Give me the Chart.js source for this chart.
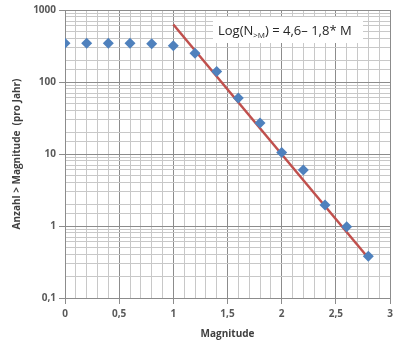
<!DOCTYPE html>
<html>
<head>
<meta charset="utf-8">
<script src="https://cdn.jsdelivr.net/npm/chart.js@4/dist/chart.umd.min.js"></script>
<style>
  html, body { margin: 0; padding: 0; background: #fff; }
  #wrap { position: relative; width: 400px; height: 347px; }
</style>
</head>
<body>
<div id="wrap"><canvas id="gr"></canvas></div>
<script>
// ── data ──
var magnitudes = [0, 0.2, 0.4, 0.6, 0.8, 1.0, 1.2, 1.4, 1.6, 1.8, 2.0, 2.2, 2.4, 2.6, 2.8];
var counts     = [345, 345, 345, 345, 340, 320, 250, 140, 60, 27, 10.5, 6, 1.95, 0.98, 0.38];

// fitted line Log(N>M) = 4,6 - 1,8*M, end points
var fitX = [1.0, 2.8];
var fitY = [630, 0.36];

var xTickLabels = ['0', '0,5', '1', '1,5', '2', '2,5', '3'];
var yTickLabels = ['0,1', '1', '10', '100', '1000'];

var FONT = '"Open Sans", "Liberation Sans", sans-serif';

function isDecade(v) {
  var l = Math.log10(v);
  return Math.abs(l - Math.round(l)) < 1e-9;
}
function isHalf(v) {
  return Math.abs(v * 2 - Math.round(v * 2)) < 1e-6;
}

var pts = [];
for (var i = 0; i < magnitudes.length; i++) pts.push({ x: magnitudes[i], y: counts[i] });
var fit = [];
for (var i = 0; i < fitX.length; i++) fit.push({ x: fitX[i], y: fitY[i] });

// formula box in the upper right
var formulaBox = {
  id: 'formulaBox',
  afterDraw: function(chart) {
    var c = chart.ctx;
    c.save();
    c.fillStyle = '#fff';
    c.fillRect(213, 17, 150, 26);
    c.fillStyle = '#262626';
    c.textBaseline = 'alphabetic';
    var x = 218, y = 35;
    c.font = '13px ' + FONT;
    c.fillText('Log(N', x, y); x += c.measureText('Log(N').width;
    c.font = '8px ' + FONT;
    c.fillText('>M', x, y + 3); x += c.measureText('>M').width;
    c.font = '13px ' + FONT;
    c.fillText(') = 4,6\u2013 1,8* M', x, y);
    c.restore();
  }
};

new Chart(document.getElementById('gr'), {
  type: 'scatter',
  data: {
    datasets: [
      {
        label: 'Anzahl',
        data: pts,
        pointStyle: 'rectRot',
        pointRadius: 5.5,
        pointHoverRadius: 5.5,
        backgroundColor: '#4F81BD',
        borderColor: '#4F81BD',
        borderWidth: 0,
        order: 1
      },
      {
        label: 'Fit',
        data: fit,
        showLine: true,
        borderColor: '#C0504D',
        borderWidth: 2.5,
        pointRadius: 0,
        order: 2
      }
    ]
  },
  options: {
    responsive: true,
    maintainAspectRatio: false,
    animation: false,
    layout: { padding: { left: 7, right: 10, top: 10, bottom: 7 } },
    plugins: {
      legend: { display: false },
      tooltip: { enabled: false }
    },
    scales: {
      x: {
        type: 'linear',
        min: 0,
        max: 3,
        afterFit: function(s) { s.height = 42; },
        ticks: {
          stepSize: 0.1,
          autoSkip: false,
          maxRotation: 0,
          color: '#595959',
          font: { family: FONT, size: 10, weight: 'bold' },
          padding: 4,
          callback: function(v) {
            if (!isHalf(v)) return '';
            return xTickLabels[Math.round(v * 2)];
          }
        },
        grid: {
          color: function(ctx) { return isHalf(ctx.tick.value) ? '#8c8c8c' : '#c8c8c8'; },
          tickColor: function(ctx) { return isHalf(ctx.tick.value) ? '#8c8c8c' : 'rgba(0,0,0,0)'; },
          tickLength: 6
        },
        border: { color: '#8c8c8c' },
        title: {
          display: true,
          text: 'Magnitude',
          color: '#404040',
          font: { family: FONT, size: 10, weight: 'bold' },
          padding: { top: 4, bottom: 0 }
        }
      },
      y: {
        type: 'logarithmic',
        min: 0.1,
        max: 1000,
        afterFit: function(s) { s.width = 58; },
        ticks: {
          autoSkip: false,
          color: '#595959',
          font: { family: FONT, size: 10, weight: 'bold' },
          padding: 3,
          callback: function(v) {
            if (!isDecade(v)) return '';
            return yTickLabels[Math.round(Math.log10(v)) + 1];
          }
        },
        grid: {
          color: function(ctx) { return isDecade(ctx.tick.value) ? '#8c8c8c' : '#c8c8c8'; },
          tickColor: function(ctx) { return isDecade(ctx.tick.value) ? '#8c8c8c' : 'rgba(0,0,0,0)'; },
          tickLength: 6
        },
        border: { color: '#8c8c8c' },
        title: {
          display: true,
          text: 'Anzahl > Magnitude  (pro Jahr)',
          color: '#404040',
          font: { family: FONT, size: 10, weight: 'bold' },
          padding: { top: 4, bottom: 4 }
        }
      }
    }
  },
  plugins: [formulaBox]
});
</script>
</body>
</html>
